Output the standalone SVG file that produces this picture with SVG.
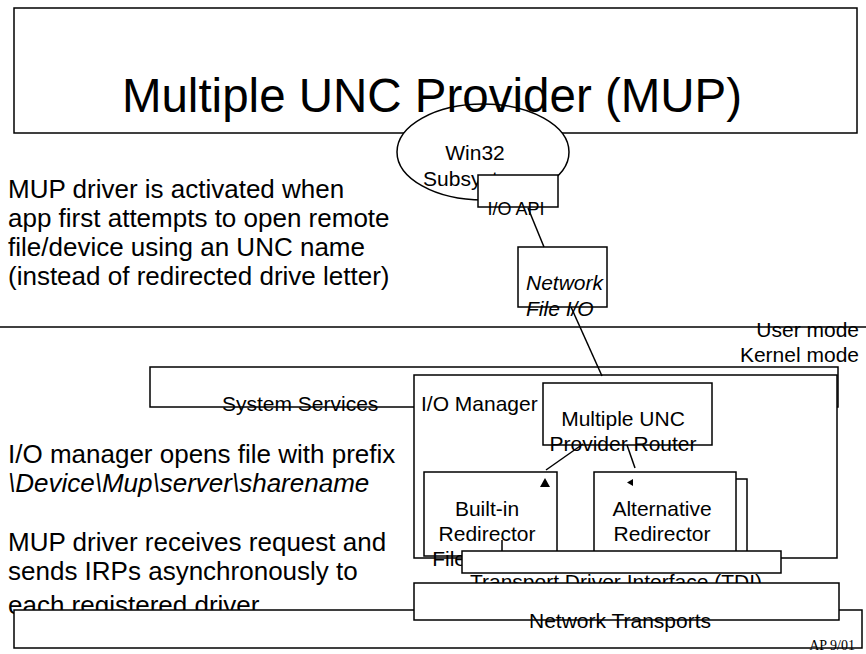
<svg xmlns="http://www.w3.org/2000/svg" width="866" height="654" viewBox="0 0 866 654">
<style>
.box{fill:#fff;stroke:#000;stroke-width:1.5}
.t{font-family:"Liberation Sans",Arial,sans-serif;fill:#000}
.m{font-size:21px}
.big{font-size:26px}
.c{text-anchor:middle}
.i{font-style:italic}
.ln{stroke:#000;stroke-width:1.5;fill:none}
</style>
<rect width="866" height="654" fill="#fff"/>
<g id="title">
<rect class="box" x="14" y="8" width="843" height="125"/>
</g>
<g id="win32">
<ellipse class="box" cx="483" cy="152" rx="86" ry="48"/>
<text class="t m c" x="475" y="160">Win32</text>
<text class="t m c" x="475" y="186">Subsystem</text>
</g>
<g id="title-label">
<text class="t c" x="432" y="112" font-size="47.5">Multiple UNC Provider (MUP)</text>
</g>
<g id="user-kernel">
<line class="ln" x1="0" y1="327" x2="866" y2="327"/>
<text class="t m" x="859" y="337" text-anchor="end">User mode</text>
<text class="t m" x="859" y="362" text-anchor="end">Kernel mode</text>
</g>
<g id="notes">
<text class="t big" x="8" y="198">MUP driver is activated when</text>
<text class="t big" x="8" y="227">app first attempts to open remote</text>
<text class="t big" x="8" y="256">file/device using an UNC name</text>
<text class="t big" x="8" y="285">(instead of redirected drive letter)</text>
<text class="t big" x="8" y="463">I/O manager opens file with prefix</text>
<text class="t big i" x="8" y="492">\Device\Mup\server\sharename</text>
<text class="t big" x="8" y="551">MUP driver receives request and</text>
<text class="t big" x="8" y="580">sends IRPs asynchronously to</text>
<text class="t big" x="8" y="614">each registered driver</text>
</g>
<g id="io-api">
<rect class="box" x="478" y="175" width="80" height="32"/>
<text class="t c" x="516" y="215" font-size="18">I/O API</text>
</g>
<g id="network-file-io">
<rect class="box" x="518" y="247" width="89" height="60"/>
<text class="t m i" x="526" y="290">Network</text>
<text class="t m i" x="526" y="316">File I/O</text>
</g>
<g id="system-services">
<rect class="box" x="150" y="367" width="688" height="40"/>
<text class="t m" x="222" y="411">System Services</text>
</g>
<g id="io-manager">
<rect class="box" x="414" y="375" width="423" height="183"/>
<text class="t m" x="421" y="411">I/O Manager</text>
</g>
<g id="mup-router">
<rect class="box" x="543" y="383" width="169" height="62"/>
<text class="t m c" x="623" y="426">Multiple UNC</text>
<text class="t m c" x="623" y="451">Provider Router</text>
</g>
<g id="builtin-redirector">
<rect class="box" x="424" y="472" width="133" height="84"/>
<text class="t m c" x="487" y="516">Built-in</text>
<text class="t m c" x="487" y="541">Redirector</text>
<text class="t m c" x="487" y="566">File System</text>
</g>
<g id="alt-redirector">
<rect class="box" x="603" y="479" width="144" height="84"/>
<rect class="box" x="594" y="472" width="142" height="84"/>
<text class="t m c" x="662" y="516">Alternative</text>
<text class="t m c" x="662" y="541">Redirector</text>
<text class="t m c" x="662" y="566">File System</text>
</g>
<g id="connectors">
<line class="ln" x1="528" y1="208" x2="544" y2="247"/>
<line class="ln" x1="571" y1="307" x2="602" y2="376"/>
<line class="ln" x1="583" y1="444" x2="546" y2="470"/>
<polygon points="545,478 540,487 550,487" fill="#000"/>
<line class="ln" x1="627" y1="445" x2="635" y2="468"/>
<polygon points="627,482.5 633,479 633,486" fill="#000"/>
<line class="ln" x1="502" y1="540" x2="502" y2="551"/>
</g>
<g id="tdi">
<rect class="box" x="462" y="551" width="319" height="22"/>
<text class="t m c" x="616" y="589">Transport Driver Interface (TDI)</text>
</g>
<g id="bottom">
<rect class="box" x="14" y="610" width="848" height="38"/>
<text x="855" y="650" font-family="'Liberation Serif',serif" font-size="14" text-anchor="end">AP 9/01</text>
</g>
<g id="network-transports">
<rect class="box" x="414" y="583" width="425" height="37"/>
<text class="t m c" x="620" y="628">Network Transports</text>
</g>
</svg>
